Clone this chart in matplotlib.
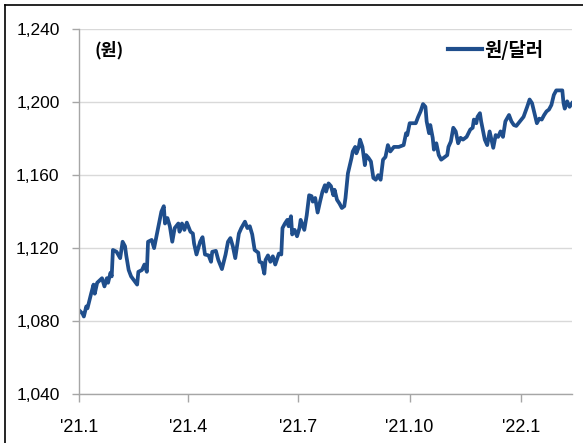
import matplotlib
matplotlib.use("Agg")
import matplotlib.pyplot as plt
import matplotlib.dates as mdates
from matplotlib.lines import Line2D
from matplotlib.ticker import FuncFormatter
import pandas as pd

# donnees : taux won/dollar
dates = [
    '2021-01-04', '2021-01-07', '2021-01-08', '2021-01-10', '2021-01-11', '2021-01-14', '2021-01-16', '2021-01-17', '2021-01-19', '2021-01-23',
    '2021-01-25', '2021-01-27', '2021-01-28', '2021-01-30', '2021-01-31', '2021-02-01', '2021-02-04', '2021-02-07', '2021-02-09', '2021-02-11',
    '2021-02-12', '2021-02-14', '2021-02-16', '2021-02-21', '2021-02-22', '2021-02-25', '2021-02-27', '2021-03-01', '2021-03-02', '2021-03-05',
    '2021-03-07', '2021-03-10', '2021-03-13', '2021-03-15', '2021-03-16', '2021-03-18', '2021-03-20', '2021-03-22', '2021-03-24', '2021-03-27',
    '2021-03-28', '2021-03-30', '2021-04-01', '2021-04-03', '2021-04-06', '2021-04-08', '2021-04-09', '2021-04-11', '2021-04-14', '2021-04-16',
    '2021-04-18', '2021-04-21', '2021-04-23', '2021-04-24', '2021-04-27', '2021-04-29', '2021-05-02', '2021-05-05', '2021-05-07', '2021-05-09',
    '2021-05-11', '2021-05-13', '2021-05-16', '2021-05-18', '2021-05-21', '2021-05-23', '2021-05-25', '2021-05-27', '2021-05-29', '2021-06-01',
    '2021-06-02', '2021-06-04', '2021-06-06', '2021-06-07', '2021-06-09', '2021-06-11', '2021-06-13', '2021-06-15', '2021-06-18', '2021-06-20',
    '2021-06-21', '2021-06-23', '2021-06-25', '2021-06-26', '2021-06-28', '2021-06-29', '2021-07-01', '2021-07-03', '2021-07-05', '2021-07-06',
    '2021-07-09', '2021-07-11', '2021-07-13', '2021-07-15', '2021-07-16', '2021-07-18', '2021-07-20', '2021-07-22', '2021-07-24', '2021-07-26',
    '2021-07-27', '2021-07-29', '2021-07-31', '2021-08-02', '2021-08-03', '2021-08-05', '2021-08-07', '2021-08-09', '2021-08-11', '2021-08-12',
    '2021-08-14', '2021-08-17', '2021-08-18', '2021-08-20', '2021-08-21', '2021-08-23', '2021-08-24', '2021-08-26', '2021-08-28', '2021-08-29',
    '2021-08-31', '2021-09-02', '2021-09-04', '2021-09-06', '2021-09-08',
    '2021-09-10', '2021-09-12', '2021-09-14', '2021-09-16', '2021-09-18', '2021-09-21', '2021-09-25', '2021-09-29', '2021-10-01', '2021-10-02',
    '2021-10-04', '2021-10-09', '2021-10-11', '2021-10-13', '2021-10-15', '2021-10-17', '2021-10-18', '2021-10-20', '2021-10-21', '2021-10-23',
    '2021-10-24', '2021-10-26', '2021-10-28', '2021-10-30', '2021-11-02', '2021-11-04', '2021-11-05', '2021-11-07', '2021-11-09', '2021-11-11',
    '2021-11-13', '2021-11-15', '2021-11-17', '2021-11-20', '2021-11-23', '2021-11-25', '2021-11-26', '2021-11-28', '2021-11-29', '2021-12-01',
    '2021-12-02', '2021-12-05', '2021-12-07', '2021-12-09', '2021-12-10', '2021-12-12', '2021-12-14', '2021-12-16', '2021-12-18', '2021-12-20',
    '2021-12-22', '2021-12-25', '2021-12-27', '2021-12-29', '2021-12-31', '2022-01-03', '2022-01-06', '2022-01-09', '2022-01-11', '2022-01-13',
    '2022-01-15', '2022-01-17', '2022-01-19', '2022-01-21', '2022-01-23', '2022-01-25', '2022-01-27', '2022-01-29', '2022-01-31', '2022-02-02',
    '2022-02-07', '2022-02-08', '2022-02-09', '2022-02-11', '2022-02-13', '2022-02-15',
]

won_dollar = [
    1086, 1084, 1082.5, 1088, 1087, 1095, 1100, 1095, 1101, 1103.5,
    1099, 1103.5, 1101, 1106.5, 1104.5, 1119, 1118, 1114.5, 1123.5, 1121,
    1116, 1108, 1104.5, 1100, 1107, 1108, 1111, 1107, 1123.5, 1124.5,
    1120, 1130, 1140, 1143, 1133.5, 1136.5, 1132, 1123.5, 1131, 1133.5,
    1129, 1133.5, 1130, 1134, 1129, 1128, 1122.5, 1116.5, 1123.5, 1126,
    1116.5, 1116, 1112.5, 1118, 1118.5, 1113.5, 1108.5, 1116.5, 1123.5, 1125.5,
    1121, 1114.5, 1128, 1131, 1134.5, 1131, 1132, 1127.5, 1119, 1117.5,
    1112.5, 1112, 1106, 1113.5, 1116, 1112.5, 1115.5, 1111, 1117, 1116.5,
    1131, 1133.5, 1135.5, 1132, 1137.5, 1127.5, 1130, 1126.5, 1131, 1135.5,
    1130, 1138, 1149, 1148.5, 1145.5, 1147.5, 1139.5, 1145.5, 1151, 1154.5,
    1151, 1155.5, 1154, 1149, 1152, 1146.5, 1144.5, 1142, 1143, 1147.5,
    1161, 1169.5, 1173, 1175.5, 1172, 1175.5, 1179.5, 1175.5, 1165.5, 1171,
    1169.5, 1167.5, 1158.5, 1157.5, 1160,
    1157.5, 1168.5, 1170, 1176.5, 1173, 1175.5, 1175.5, 1176.5, 1183, 1182,
    1188.5, 1188.5, 1192, 1195, 1199, 1197.5, 1189.5, 1183, 1187.5, 1180.5,
    1174, 1177.5, 1171, 1168.5, 1170, 1171, 1175.5, 1178.5, 1186, 1184,
    1177.5, 1180.5, 1179.5, 1181, 1185, 1186, 1190.5, 1188.5, 1192, 1194,
    1189.5, 1179.5, 1176.5, 1184, 1181, 1175, 1182, 1181, 1184, 1181,
    1189.5, 1193, 1189.5, 1187.5, 1187, 1189.5, 1192, 1197.5, 1201.5, 1199.5,
    1194, 1188.5, 1191, 1190.5, 1193, 1195, 1196, 1198.5, 1204, 1206.5,
    1206.5, 1199.5, 1196.5, 1200.5, 1197.5, 1199.5,
]

x_ticks = ['2021-01-04', '2021-04-04', '2021-07-04', '2021-10-04', '2022-01-04']
y_ticks = [1040, 1080, 1120, 1160, 1200, 1240]

line_color = '#1f4e8c'
grid_color = '#d9d9d9'
axis_color = '#a6a6a6'

plt.rcParams['font.family'] = ['Liberation Sans', 'Noto Sans CJK KR', 'DejaVu Sans']

fig = plt.figure(figsize=(5.83, 4.43), dpi=100)
ax = fig.add_axes([79 / 583, 1 - 394 / 443, (572 - 79) / 583, (394 - 29.3) / 443])

x = pd.to_datetime(dates)
ax.plot(x, won_dollar, color=line_color, lw=2.7, solid_joinstyle='round', label='원/달러')

# axes
ax.set_xlim(pd.Timestamp('2021-01-04'), pd.Timestamp('2022-02-15'))
ax.set_ylim(1040, 1240)
ax.set_yticks(y_ticks)
ax.set_xticks(pd.to_datetime(x_ticks))
ax.yaxis.set_major_formatter(FuncFormatter(lambda v, p: f'{v:,.0f}'))
ax.xaxis.set_major_formatter(FuncFormatter(
    lambda v, p: "'%d.%d" % (mdates.num2date(v).year % 100, mdates.num2date(v).month)))

ax.grid(axis='y', color=grid_color, lw=1.0)
ax.set_axisbelow(True)
for s in ['top', 'right']:
    ax.spines[s].set_visible(False)
for s in ['left', 'bottom']:
    ax.spines[s].set_color(axis_color)
    ax.spines[s].set_linewidth(1.0)

ax.tick_params(axis='y', length=5, width=1, color=axis_color, pad=9, labelsize=12.5, labelcolor='black')
ax.tick_params(axis='x', length=6, width=1, color=axis_color, pad=12, labelsize=13, labelcolor='black')

# unite et legende
fig.text(95 / 583, 1 - 50 / 443, '(원)', ha='left', va='center', fontsize=12.5,
         family=['Noto Sans CJK KR', 'DejaVu Sans'], fontweight='bold')
leg = ax.legend(loc='center left', bbox_to_anchor=(448 / 583, 1 - 50 / 443),
                bbox_transform=fig.transFigure, frameon=False, borderpad=0, borderaxespad=0,
                handlelength=1.8, handletextpad=0.15,
                prop={'family': ['Noto Sans CJK KR', 'DejaVu Sans'], 'size': 13.5, 'weight': 'bold'})
for h in leg.get_lines():
    h.set_linewidth(3)

# cadre
fig.add_artist(Line2D([5 / 583, 5 / 583], [0, 1 - 5 / 443], transform=fig.transFigure, color='black', lw=1.2))
fig.add_artist(Line2D([5 / 583, 1], [1 - 5 / 443, 1 - 5 / 443], transform=fig.transFigure, color='black', lw=1.2))

fig.savefig('out.png', dpi=100)
